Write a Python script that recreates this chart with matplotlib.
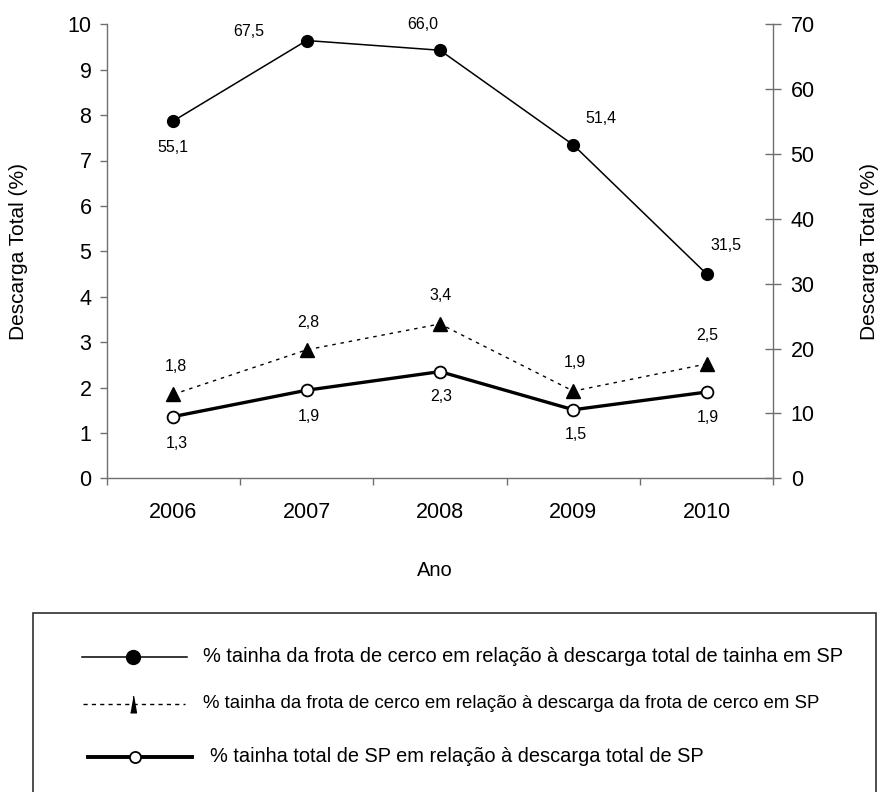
import matplotlib
matplotlib.use("Agg")
import matplotlib.pyplot as plt
from matplotlib.lines import Line2D

plt.rcParams['font.family'] = ['Liberation Sans', 'DejaVu Sans']

# ---- data ----
years = ["2006", "2007", "2008", "2009", "2010"]
cerco_vs_tainha = [55.1, 67.5, 66.0, 51.4, 31.5]          # right axis
cerco_vs_tainha_lbl = ["55,1", "67,5", "66,0", "51,4", "31,5"]
cerco_vs_cerco = [1.85, 2.83, 3.40, 1.92, 2.52]           # left axis
cerco_vs_cerco_lbl = ["1,8", "2,8", "3,4", "1,9", "2,5"]
total_sp = [1.36, 1.94, 2.35, 1.51, 1.90]                 # left axis
total_sp_lbl = ["1,3", "1,9", "2,3", "1,5", "1,9"]
left_ticks = list(range(0, 11))
right_ticks = list(range(0, 71, 10))

legend_labels = [
    "% tainha da frota de cerco em relação à descarga total de tainha em SP",
    "% tainha da frota de cerco em relação à descarga da frota de cerco em SP",
    "% tainha total de SP em relação à descarga total de SP",
]

W, H = 882, 792
fig = plt.figure(figsize=(W / 100, H / 100), dpi=100)
L, R, T, B = 106.7, 773.3, 24.3, 478.3
ax = fig.add_axes([L / W, 1 - B / H, (R - L) / W, (B - T) / H])
ax2 = ax.twinx()

x = list(range(len(years)))
spine_col = '#707070'

# left axis series
ax.plot(x, cerco_vs_cerco, color='black', lw=1.0, dashes=(2.5, 3.5),
        marker='^', ms=9.5, mfc='black', mec='black', zorder=3)
ax.plot(x, total_sp, color='black', lw=2.4, marker='o', ms=8.5,
        mfc='white', mec='black', mew=1.3, zorder=4)
# right axis series
ax2.plot(x, cerco_vs_tainha, color='black', lw=1.1, marker='o', ms=8.5,
         mfc='black', mec='black', zorder=3)

ax.set_xlim(-0.5, len(years) - 0.5)
ax.set_ylim(0, 10)
ax2.set_ylim(0, 70)
ax.set_yticks(left_ticks)
ax2.set_yticks(right_ticks)
ax.set_xticks(x)
ax.set_xticklabels(years)
ax.set_xticks([i - 0.5 for i in range(len(years) + 1)], minor=True)

for a in (ax, ax2):
    a.spines['top'].set_visible(False)
    for s in a.spines.values():
        s.set_color(spine_col)
        s.set_linewidth(1.0)
ax.spines['right'].set_visible(False)
ax2.spines['left'].set_visible(False)
ax2.spines['bottom'].set_visible(False)

ax.tick_params(axis='y', direction='out', length=5, width=1, color=spine_col,
               labelsize=15.5, pad=6)
ax.tick_params(axis='x', which='major', length=0, labelsize=15.5, pad=17)
ax.tick_params(axis='x', which='minor', direction='out', length=5, width=1,
               color=spine_col)
ax2.tick_params(axis='y', direction='inout', length=11, width=1,
                color=spine_col, labelsize=15.5, pad=7)

ax.set_ylabel("Descarga Total (%)", fontsize=15)
ax2.set_ylabel("Descarga Total (%)", fontsize=15)
ax.yaxis.label.set_va('center')
ax2.yaxis.label.set_va('center')
ax2.yaxis.label.set_rotation(90)
ax.yaxis.set_label_coords((18.5 - L) / (R - L), 0.5)
ax2.yaxis.set_label_coords((870 - L) / (R - L), 0.5)
ax.set_xlabel("Ano", fontsize=14.5)
ax.xaxis.label.set_va('center')
ax.xaxis.set_label_coords((435 - L) / (R - L), -(570 - B) / (B - T))

# data labels (offsets in pixels)
off1 = [(0, -27), (-58, 9), (-17, 26), (28, 26), (19, 28)]
for i, v in enumerate(cerco_vs_tainha):
    ax2.annotate(cerco_vs_tainha_lbl[i], (x[i], v), xytext=off1[i],
                 textcoords='offset pixels', ha='center', va='center',
                 fontsize=11.5)
off2 = [(3, 28), (2, 27), (1, 28), (1, 29), (1, 28)]
for i, v in enumerate(cerco_vs_cerco):
    ax.annotate(cerco_vs_cerco_lbl[i], (x[i], v), xytext=off2[i],
                textcoords='offset pixels', ha='center', va='center',
                fontsize=11.5)
off3 = [(3, -27), (2, -26), (1, -25), (2, -25), (1, -25)]
for i, v in enumerate(total_sp):
    ax.annotate(total_sp_lbl[i], (x[i], v), xytext=off3[i],
                textcoords='offset pixels', ha='center', va='center',
                fontsize=11.5)

# ---- legend box (drawn in pixel space) ----
lg = fig.add_axes([0, 0, 1, 1], zorder=5)
lg.set_xlim(0, W)
lg.set_ylim(H, 0)
lg.axis('off')
lg.add_line(Line2D([33, 33, 876, 876], [800, 613, 613, 800],
                   color='#303030', lw=1.2, solid_joinstyle='miter'))

tri = [(-0.35, -1), (0.35, -1), (0, 1)]
lg.add_line(Line2D([82, 187], [657, 657], color='black', lw=1.1))
lg.add_line(Line2D([133], [657], marker='o', ms=10, mfc='black', mec='black',
                   ls='none'))
lg.add_line(Line2D([83, 185], [704, 704], color='black', lw=1.0,
                   dashes=(3, 3)))
lg.add_line(Line2D([133], [704], marker=tri, ms=12, mfc='black', mec='black',
                   ls='none'))
lg.add_line(Line2D([88, 192], [757, 757], color='black', lw=2.8))
lg.add_line(Line2D([135], [757], marker='o', ms=8, mfc='white', mec='black',
                   mew=1.3, ls='none'))

lx = [203, 203, 210]
ly = [657, 704, 757]
lsz = [14.4, 13.4, 14.4]
for i, t in enumerate(legend_labels):
    lg.text(lx[i], ly[i], t, fontsize=lsz[i], ha='left', va='center')

fig.savefig("out.png", dpi=100)
